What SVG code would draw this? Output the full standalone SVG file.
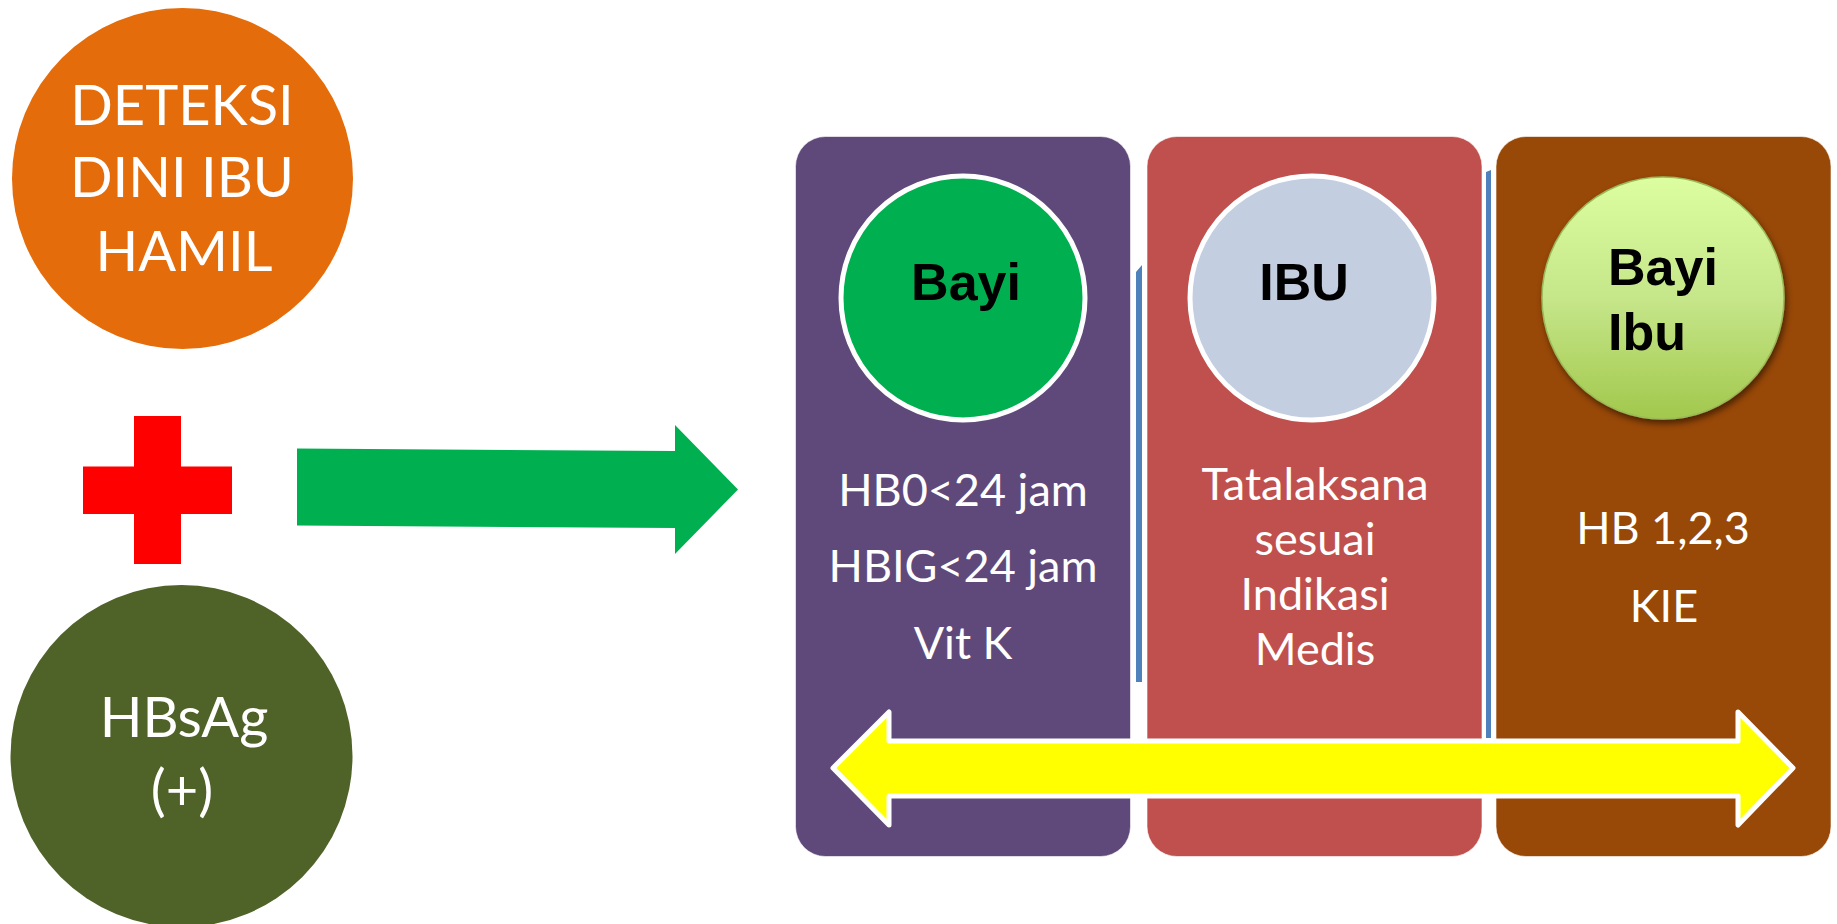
<svg xmlns="http://www.w3.org/2000/svg" width="1837" height="924" viewBox="0 0 1837 924">
<defs>
  <linearGradient id="gBI" x1="0" y1="0" x2="0" y2="1">
    <stop offset="0" stop-color="#DCFDA0"/>
    <stop offset="0.5" stop-color="#C6E68A"/>
    <stop offset="1" stop-color="#A2C84C"/>
  </linearGradient>
  <filter id="sh" x="-20%" y="-20%" width="140%" height="140%">
    <feGaussianBlur in="SourceAlpha" stdDeviation="3"/>
    <feOffset dx="2" dy="4" result="b"/>
    <feComponentTransfer><feFuncA type="linear" slope="0.5"/></feComponentTransfer>
    <feMerge><feMergeNode/><feMergeNode in="SourceGraphic"/></feMerge>
  </filter>
</defs>
<style>
  .cal { font-family: Lato, "Open Sans", sans-serif; fill: #FFFFFF; text-anchor: middle; }
  .big { font-size: 56px; }
  .mid { font-size: 45px; }
  .bold { font-family: "Liberation Sans", Arial, sans-serif; font-weight: bold; font-size: 52px; fill: #000000; }
  .panel { stroke: #FFFFFF; stroke-opacity: 0.6; stroke-width: 1; }
  .ring { stroke: #FFFFFF; stroke-width: 5; }
</style>
<rect width="1837" height="924" fill="#FFFFFF"/>

<g id="node-deteksi">
  <circle cx="182.5" cy="178.5" r="170.5" fill="#E46C0A"/>
  <text class="cal big" x="182" y="125">DETEKSI</text>
  <text class="cal big" x="182" y="197">DINI IBU</text>
  <text class="cal big" x="184" y="271">HAMIL</text>
</g>

<g id="node-plus">
  <rect x="134" y="416" width="47" height="148" fill="#FF0000"/>
  <rect x="83" y="466.5" width="149" height="47.5" fill="#FF0000"/>
</g>

<g id="node-hbsag">
  <circle cx="181.5" cy="756" r="171" fill="#4F6228"/>
  <text class="cal big" x="184" y="737">HBsAg</text>
  <text class="cal big" x="182" y="810">(+)</text>
</g>

<g id="node-bg-lines">
  <polygon points="1136,272 1142,265 1142,682 1136,682" fill="#4F81BD"/>
  <polygon points="1486,172 1491,170 1491,738 1486,738" fill="#4F81BD"/>
</g>

<g id="node-panel-bayi">
  <rect class="panel" x="795.5" y="136.5" width="335" height="720" rx="30" ry="30" fill="#5F497A"/>
  <circle class="ring" cx="963" cy="298" r="122" fill="#00B050"/>
  <text class="bold" x="966" y="300" text-anchor="middle">Bayi</text>
  <text class="cal mid" x="963" y="506">HB0&lt;24 jam</text>
  <text class="cal mid" x="963" y="582">HBIG&lt;24 jam</text>
  <text class="cal mid" x="963" y="659">Vit K</text>
</g>

<g id="node-panel-ibu">
  <rect class="panel" x="1147" y="136.5" width="335" height="720" rx="30" ry="30" fill="#C0504D"/>
  <circle class="ring" cx="1312" cy="298" r="122" fill="#C3CEE1"/>
  <text class="bold" x="1304" y="300" text-anchor="middle">IBU</text>
  <text class="cal mid" x="1315" y="500">Tatalaksana</text>
  <text class="cal mid" x="1315" y="555">sesuai</text>
  <text class="cal mid" x="1315" y="610">Indikasi</text>
  <text class="cal mid" x="1315" y="665">Medis</text>
</g>

<g id="node-panel-bayiibu">
  <rect class="panel" x="1496" y="136.5" width="335" height="720" rx="30" ry="30" fill="#984807"/>
  <circle cx="1663" cy="298" r="121" fill="url(#gBI)" stroke="#9BBB59" stroke-width="1.5" filter="url(#sh)"/>
  <text class="bold" x="1608" y="285">Bayi</text>
  <text class="bold" x="1608" y="350">Ibu</text>
  <text class="cal mid" x="1663" y="544">HB 1,2,3</text>
  <text class="cal mid" x="1664" y="622">KIE</text>
</g>

<g id="connectors">
  <polygon points="297,448.5 675,451 675,425 738,489.5 675,554 675,528 297,525.5" fill="#00B050"/>
  <polygon points="833,768 889,712 889,741 1738,741 1738,712 1793,768 1738,825 1738,796 889,796 889,825" fill="#FFFF00" stroke="#FFFFFF" stroke-width="5" stroke-linejoin="round"/>
</g>
</svg>
